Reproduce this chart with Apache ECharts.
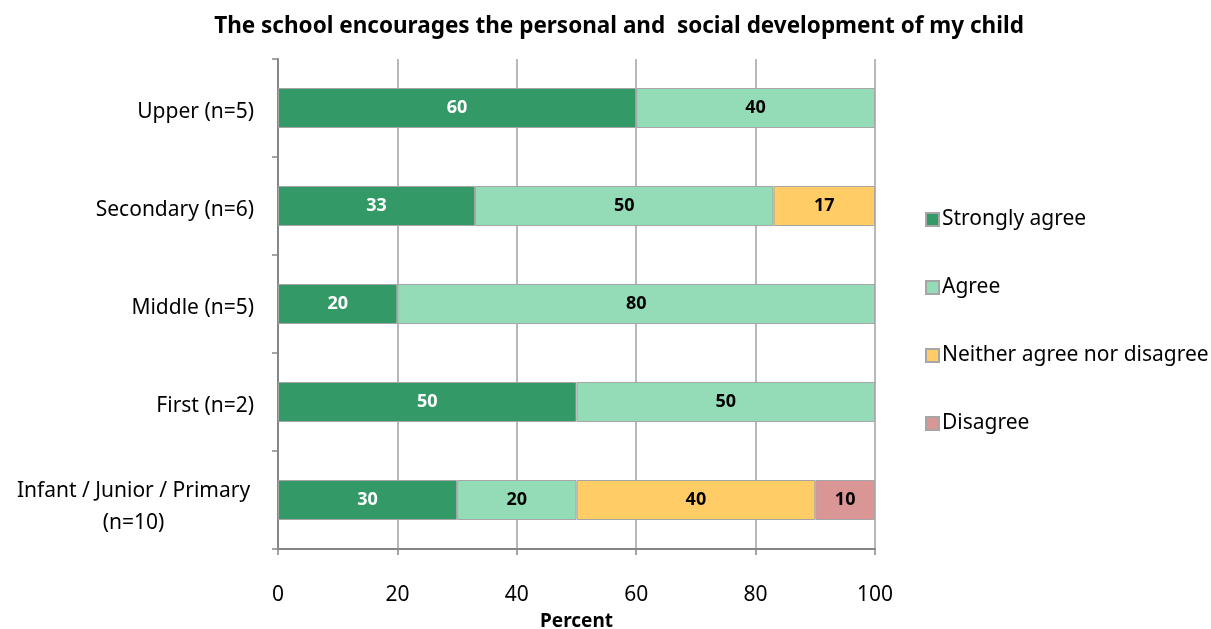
<!DOCTYPE html>
<html>
<head>
<meta charset="utf-8">
<script src="https://cdn.jsdelivr.net/npm/echarts@6/dist/echarts.min.js"></script>
<style>
  html, body { margin: 0; padding: 0; background: #fff; }
  #chart { width: 1211px; height: 629px; }
</style>
</head>
<body>
<div id="chart"></div>
<script>
// School phases, top to bottom
const categories = [
  'Upper (n=5)',
  'Secondary (n=6)',
  'Middle (n=5)',
  'First (n=2)',
  'Infant / Junior / Primary\n(n=10)'
];
const seriesNames = ['Strongly agree', 'Agree', 'Neither agree nor disagree', 'Disagree'];
// Percent of responses per phase
const stronglyAgree = [60, 33, 20, 50, 30];
const agree = [40, 50, 80, 50, 20];
const neither = [0, 17, 0, 0, 40];
const disagree = [0, 0, 0, 0, 10];
const xTicks = [0, 20, 40, 60, 80, 100];

const FONT = 'Noto Sans';
const colors = ['#339966', '#94dcb7', '#ffcc66', '#d99694'];
const labelColors = ['#ffffff', '#000000', '#000000', '#000000'];

const chart = echarts.init(document.getElementById('chart'), null, { renderer: 'canvas' });

function makeSeries(name, data, i) {
  return {
    name: name,
    type: 'bar',
    stack: 'total',
    barWidth: 40,
    data: data.map(v => (v === 0 ? null : v)),
    itemStyle: { color: colors[i], borderColor: '#a6a6a6', borderWidth: 1 },
    label: {
      show: true,
      position: 'inside',
      color: labelColors[i],
      fontFamily: FONT,
      fontWeight: 'bold',
      fontSize: 18
    },
    emphasis: { disabled: true }
  };
}

const option = {
  animation: false,
  backgroundColor: '#ffffff',
  title: {
    text: 'The school encourages the personal and  social development of my child',
    left: 614,
    textAlign: 'center',
    top: 10,
    textStyle: { fontFamily: FONT, fontWeight: 'bold', fontSize: 22.5, color: '#000' }
  },
  legend: {
    orient: 'vertical',
    left: 920,
    top: 204,
    itemGap: 47,
    itemWidth: 13,
    itemHeight: 13,
    icon: 'rect',
    textStyle: { fontFamily: FONT, fontSize: 21, color: '#000', padding: [0, 0, 0, -2] },
    data: seriesNames
  },
  grid: { left: 278, right: 336, top: 59, bottom: 80, containLabel: false, outerBoundsMode: 'none' },
  xAxis: {
    type: 'value',
    min: xTicks[0],
    max: xTicks[xTicks.length - 1],
    interval: 20,
    name: 'Percent',
    nameLocation: 'middle',
    nameGap: 63,
    nameTextStyle: { fontFamily: FONT, fontWeight: 'bold', fontSize: 19, color: '#000' },
    axisLine: { show: true, lineStyle: { color: '#868686', width: 2 } },
    axisTick: { show: true, length: 6, lineStyle: { color: '#868686', width: 1.5 } },
    axisLabel: { fontFamily: FONT, fontSize: 21, color: '#000', margin: 36 },
    splitLine: { show: true, lineStyle: { color: '#a0a0a0', width: 1.5 } }
  },
  yAxis: {
    type: 'category',
    inverse: true,
    data: categories,
    axisLine: { show: true, lineStyle: { color: '#868686', width: 2 } },
    axisTick: { show: true, length: 6, alignWithLabel: false, lineStyle: { color: '#868686', width: 1.5 } },
    axisLabel: {
      fontFamily: FONT,
      fontSize: 21,
      color: '#000',
      margin: 24,
      formatter: function (v) {
        if (v.indexOf('\n') >= 0) {
          const lines = v.split('\n');
          return '{t|' + lines[0] + '}\n{c|' + lines[1] + '}';
        }
        return '{s|' + v + '}';
      },
      rich: {
        s: { fontFamily: FONT, fontSize: 21, color: '#000', lineHeight: 26, padding: [8, 0, 0, 0] },
        t: { fontFamily: FONT, fontSize: 21, color: '#000', width: 241, align: 'center', lineHeight: 35, verticalAlign: 'bottom' },
        c: { fontFamily: FONT, fontSize: 21, color: '#000', width: 241, align: 'center', lineHeight: 32, verticalAlign: 'bottom' }
      }
    },
    splitLine: { show: false }
  },
  series: [
    makeSeries(seriesNames[0], stronglyAgree, 0),
    makeSeries(seriesNames[1], agree, 1),
    makeSeries(seriesNames[2], neither, 2),
    makeSeries(seriesNames[3], disagree, 3)
  ]
};

chart.setOption(option);
</script>
</body>
</html>
